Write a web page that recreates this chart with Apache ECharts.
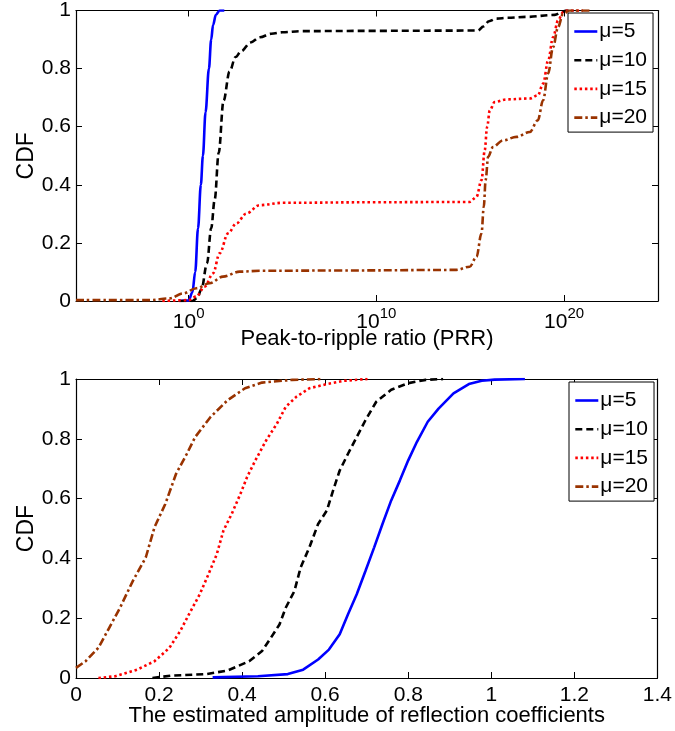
<!DOCTYPE html>
<html><head><meta charset="utf-8">
<script src="https://cdn.jsdelivr.net/npm/echarts@6/dist/echarts.min.js"></script>
<style>html,body{margin:0;padding:0;background:#fff}#c{width:675px;height:731px}</style>
</head><body><div id="c"></div>
<script>
const seriesNames = ['μ=5', 'μ=10', 'μ=15', 'μ=20'];
const prrTicks = [0, 10, 20];          // exponents of 10 shown on the PRR axis

// Top plot: [log10(PRR), CDF]
const prrMu5 = [[-0.5,0],[0,0.002],[0.2,0.03],[0.35,0.1],[0.5,0.25],[0.65,0.4],[0.76,0.5],[0.9,0.65],[1.08,0.8],[1.2,0.9],[1.3,0.95],[1.45,0.985],[1.65,1],[1.9,1]];
const prrMu10 = [[-0.5,0],[0.2,0],[0.45,0.01],[0.68,0.04],[0.98,0.13],[1.2,0.25],[1.39,0.35],[1.6,0.51],[1.86,0.69],[2.18,0.79],[2.5,0.84],[2.8,0.86],[3.3,0.89],[3.8,0.908],[4.4,0.92],[5,0.925],[6,0.929],[10,0.93],[15.4,0.931],[15.7,0.945],[16,0.963],[16.4,0.972],[17,0.975],[18,0.978],[19.5,0.985],[19.9,0.995],[20.1,1],[20.5,1]];
const prrMu15 = [[-1.4,0],[0,0.003],[0.4,0.015],[0.85,0.049],[1.3,0.095],[1.65,0.164],[2.1,0.233],[2.54,0.267],[3.07,0.301],[3.78,0.33],[5,0.338],[10,0.34],[14.97,0.341],[15.33,0.358],[15.6,0.416],[15.77,0.519],[15.9,0.6],[16.04,0.656],[16.3,0.685],[16.93,0.694],[18.17,0.697],[18.6,0.708],[18.88,0.748],[19.15,0.828],[19.41,0.908],[19.68,0.966],[19.94,0.994],[20.1,1],[21,1]];
const prrMu20 = [[-6,0.003],[-2.08,0.003],[-1,0.009],[-0.3,0.026],[0.41,0.044],[1.12,0.061],[1.83,0.084],[2.72,0.101],[3.78,0.104],[8,0.105],[14.26,0.107],[14.97,0.118],[15.33,0.152],[15.6,0.233],[15.72,0.324],[15.82,0.416],[15.95,0.496],[16.21,0.53],[16.74,0.553],[17.46,0.565],[18.17,0.582],[18.6,0.622],[18.88,0.691],[19.15,0.783],[19.41,0.874],[19.68,0.943],[19.94,0.989],[20.3,1],[21.4,1]];

// Bottom plot: [estimated amplitude, CDF]
const ampMu5 = [[0.329,0.002],[0.438,0.006],[0.51,0.013],[0.547,0.028],[0.583,0.062],[0.609,0.095],[0.635,0.146],[0.655,0.213],[0.676,0.28],[0.697,0.358],[0.718,0.437],[0.738,0.515],[0.759,0.594],[0.78,0.661],[0.8,0.728],[0.821,0.79],[0.847,0.857],[0.873,0.901],[0.909,0.952],[0.946,0.983],[0.977,0.994],[1.008,0.998],[1.081,1]];
const ampMu10 = [[0.184,0],[0.23,0.008],[0.313,0.013],[0.365,0.025],[0.417,0.056],[0.448,0.09],[0.469,0.134],[0.49,0.179],[0.505,0.235],[0.526,0.291],[0.541,0.37],[0.562,0.437],[0.583,0.515],[0.604,0.56],[0.619,0.627],[0.635,0.694],[0.655,0.75],[0.676,0.806],[0.697,0.862],[0.723,0.924],[0.759,0.964],[0.8,0.986],[0.842,0.997],[0.884,1]];
const ampMu15 = [[0.054,0],[0.095,0.006],[0.147,0.028],[0.189,0.056],[0.225,0.101],[0.251,0.157],[0.272,0.213],[0.298,0.28],[0.319,0.347],[0.339,0.414],[0.355,0.493],[0.375,0.549],[0.396,0.616],[0.412,0.672],[0.432,0.728],[0.458,0.795],[0.484,0.851],[0.505,0.907],[0.531,0.941],[0.562,0.969],[0.604,0.983],[0.645,0.994],[0.702,1]];
const ampMu20 = [[0,0.034],[0.023,0.056],[0.054,0.101],[0.08,0.168],[0.106,0.235],[0.137,0.325],[0.168,0.403],[0.189,0.504],[0.215,0.582],[0.241,0.683],[0.267,0.75],[0.287,0.806],[0.324,0.873],[0.365,0.929],[0.407,0.969],[0.448,0.988],[0.521,0.997],[0.593,1]];

const colors = ['#0000ff', '#000000', '#ff0000', '#993300'];
const dashes = ['solid', [7, 4], [2.5, 2.8], [8, 3, 2.5, 3]];
const FONT = '"Liberation Sans", Arial, Helvetica, sans-serif';
const FS = 21;
const NFS = 22;

function mkSeries(data, i, xi, yi, smooth) {
  return {
    type: 'line', name: seriesNames[i], data: data, xAxisIndex: xi, yAxisIndex: yi,
    symbol: 'none', smooth: smooth ? 0.35 : false, smoothMonotone: 'x',
    lineStyle: { color: colors[i], width: 2.6, type: dashes[i] },
    itemStyle: { color: colors[i] }, z: 3
  };
}

const axLine = { show: true, onZero: false, lineStyle: { color: '#000', width: 1.2 } };
const tickIn = { show: true, inside: true, length: 6, lineStyle: { color: '#000', width: 1 } };
const lbl = { color: '#000', fontSize: FS, fontFamily: FONT };

function yAxes(gi) {
  return [
    { type: 'value', gridIndex: gi, min: 0, max: 1, interval: 0.2, position: 'left',
      axisLine: axLine, axisTick: tickIn, splitLine: { show: false },
      axisLabel: Object.assign({ margin: 5 }, lbl),
      name: 'CDF', nameLocation: 'middle', nameRotate: 90, nameGap: 38, nameMoveOverlap: false,
      nameTextStyle: { color: '#000', fontSize: 23, fontFamily: FONT } },
    { type: 'value', gridIndex: gi, min: 0, max: 1, interval: 0.2, position: 'right',
      axisLine: axLine, axisTick: tickIn, splitLine: { show: false }, axisLabel: { show: false } }
  ];
}

function mkLegend(left, top) {
  return { data: seriesNames, orient: 'vertical', left: left, top: top, itemWidth: 23, itemHeight: 20, itemGap: 7.7,
    padding: [8, 4, 4, 5], backgroundColor: '#fff', borderColor: '#000', borderWidth: 1, borderRadius: 0,
    itemStyle: { opacity: 0 }, lineStyle: { width: 2.6 },
    textStyle: { color: '#000', fontSize: FS, fontFamily: FONT, lineHeight: 20, padding: [0, 2, 0, -3] },
    selectedMode: false, z: 10 };
}

const option = {
  animation: false,
  backgroundColor: '#fff',
  textStyle: { fontFamily: FONT },
  grid: [
    { left: 76, right: 17, top: 10, height: 291 },
    { left: 76, right: 17, top: 379, height: 299 }
  ],
  xAxis: [
    { type: 'value', gridIndex: 0, min: -6, max: 25, position: 'bottom',
      axisLine: axLine, splitLine: { show: false },
      axisTick: Object.assign({ customValues: prrTicks }, tickIn),
      axisLabel: { customValues: prrTicks, margin: 5,
        formatter: function (v) { return '{b|10}{s|' + v + '}'; },
        rich: { b: { fontSize: FS, fontFamily: FONT, color: '#000', lineHeight: 27, verticalAlign: 'bottom' },
                s: { fontSize: 15, fontFamily: FONT, color: '#000', lineHeight: 27, verticalAlign: 'top', padding: [0, 0, 12, 0] } } },
      name: 'Peak-to-ripple ratio (PRR)', nameLocation: 'middle', nameGap: 27, nameMoveOverlap: false,
      nameTextStyle: { color: '#000', fontSize: NFS, fontFamily: FONT } },
    { type: 'value', gridIndex: 0, min: -6, max: 25, position: 'top',
      axisLine: axLine, splitLine: { show: false },
      axisTick: Object.assign({ customValues: prrTicks }, tickIn), axisLabel: { show: false } },
    { type: 'value', gridIndex: 1, min: 0, max: 1.4, interval: 0.2, position: 'bottom',
      axisLine: axLine, axisTick: tickIn, splitLine: { show: false },
      axisLabel: Object.assign({ margin: 7 }, lbl),
      name: 'The estimated amplitude of reflection coefficients', nameLocation: 'middle', nameGap: 27, nameMoveOverlap: false,
      nameTextStyle: { color: '#000', fontSize: NFS, fontFamily: FONT } },
    { type: 'value', gridIndex: 1, min: 0, max: 1.4, interval: 0.2, position: 'top',
      axisLine: axLine, axisTick: tickIn, splitLine: { show: false }, axisLabel: { show: false } }
  ],
  yAxis: yAxes(0).concat(yAxes(1)),
  legend: [ mkLegend(568, 13), mkLegend(569, 382) ],
  series: [
    mkSeries(prrMu5, 0, 0, 0, true),
    mkSeries(prrMu10, 1, 0, 0, true),
    mkSeries(prrMu15, 2, 0, 0, true),
    mkSeries(prrMu20, 3, 0, 0, true),
    mkSeries(ampMu5, 0, 2, 2, false),
    mkSeries(ampMu10, 1, 2, 2, false),
    mkSeries(ampMu15, 2, 2, 2, false),
    mkSeries(ampMu20, 3, 2, 2, false)
  ]
};

const chart = echarts.init(document.getElementById('c'), null, { renderer: 'canvas' });
chart.setOption(option);
</script>
</body></html>
